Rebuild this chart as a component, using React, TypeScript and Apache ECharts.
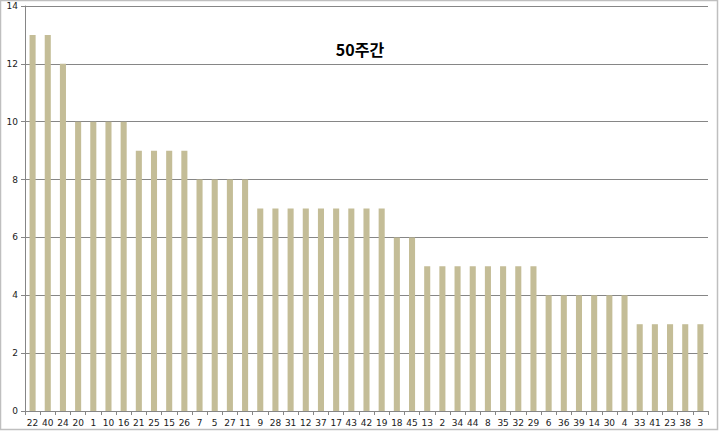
import React, { useEffect, useRef } from "react";
import * as echarts from "echarts";

// Draw numbers (categories) and how often each was drawn over 50 weeks
const categories = [
  "22", "40", "24", "20", "1", "10", "16", "21", "25", "15", "26", "7", "5", "27", "11",
  "9", "28", "31", "12", "37", "17", "43", "42", "19", "18", "45", "13", "2", "34", "44",
  "8", "35", "32", "29", "6", "36", "39", "14", "30", "4", "33", "41", "23", "38", "3",
];
const counts = [
  13, 13, 12, 10, 10, 10, 10, 9, 9, 9, 9, 8, 8, 8, 8,
  7, 7, 7, 7, 7, 7, 7, 7, 7, 6, 6, 5, 5, 5, 5,
  5, 5, 5, 5, 4, 4, 4, 4, 4, 4, 3, 3, 3, 3, 3,
];
const titleText = "50주간";

export default function App() {
  const ref = useRef<HTMLDivElement>(null);

  useEffect(() => {
    document.body.style.margin = "0";
    const chart = echarts.init(ref.current!, null, { renderer: "svg" });
    chart.setOption({
      animation: false,
      backgroundColor: "#ffffff",
      title: {
        text: titleText,
        left: 355,
        top: 36,
        textAlign: "center",
        textStyle: {
          fontFamily: "Noto Sans CJK KR",
          fontWeight: "bold",
          fontSize: 16,
          color: "#000000",
        },
      },
      graphic: [
        {
          type: "rect",
          shape: { x: 0.5, y: 0.5, width: 717, height: 429 },
          style: { fill: "none", stroke: "#bfbfbf", lineWidth: 1.5 },
          silent: true,
          z: 100,
        },
      ],
      grid: { left: 25, right: 12, top: 6, bottom: 21, containLabel: false },
      xAxis: {
        type: "category",
        data: categories,
        axisLine: { lineStyle: { color: "#868686", width: 1 } },
        axisTick: { show: true, alignWithLabel: false, length: 4, lineStyle: { color: "#868686" } },
        axisLabel: {
          interval: 0,
          fontFamily: "DejaVu Sans",
          fontSize: 9,
          color: "#1a1a1a",
          margin: 7,
        },
      },
      yAxis: {
        type: "value",
        min: 0,
        max: 14,
        interval: 2,
        axisLine: { show: true, lineStyle: { color: "#868686", width: 1 } },
        axisTick: { show: true, length: 4, lineStyle: { color: "#868686" } },
        splitLine: { lineStyle: { color: "#868686", width: 1 } },
        axisLabel: {
          fontFamily: "DejaVu Sans",
          fontSize: 9,
          color: "#1a1a1a",
          margin: 7,
        },
      },
      series: [
        {
          type: "bar",
          data: counts,
          barWidth: "40%",
          itemStyle: { color: "#c4bd97" },
        },
      ],
    });
    return () => chart.dispose();
  }, []);

  return <div ref={ref} style={{ width: 720, height: 432 }} />;
}
